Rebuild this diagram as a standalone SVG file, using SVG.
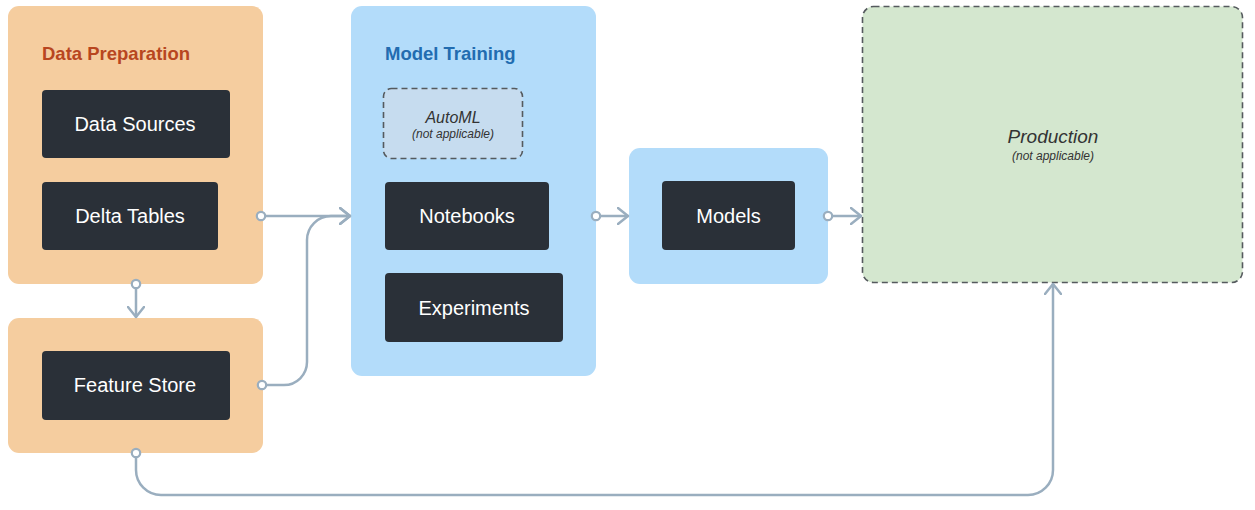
<svg xmlns="http://www.w3.org/2000/svg" width="1255" height="510" viewBox="0 0 1255 510">
<style>
.prep{fill:#f5cd9f}
.train{fill:#b3dcfa}
.node{fill:#2a3038}
.lbl{font-family:"Liberation Sans",Arial,sans-serif;font-size:20px;fill:#ffffff;text-anchor:middle}
.title{font-family:"Liberation Sans",Arial,sans-serif;font-size:18.5px;font-weight:bold}
.na{fill:#c6dcef;stroke:#555a5e;stroke-width:1.6;stroke-dasharray:6 4}
.it{font-family:"Liberation Sans",Arial,sans-serif;font-style:italic;fill:#333;text-anchor:middle}
.conn{fill:none;stroke:#9aaebf;stroke-width:2.5;stroke-linecap:round;stroke-linejoin:round}
.dot{fill:#ffffff;stroke:#9aaebf;stroke-width:2.2}
</style>
<defs>
<marker id="arr" viewBox="0 0 12 18" refX="11" refY="9" markerWidth="12" markerHeight="18" markerUnits="userSpaceOnUse" orient="auto">
<path d="M1 1 L11 9 L1 17" fill="none" stroke="#9aaebf" stroke-width="2.5" stroke-linecap="round" stroke-linejoin="round"/>
</marker>
</defs>

<g id="data-preparation">
<rect class="prep" x="8" y="6" width="255" height="278" rx="11"/>
<text class="title" x="42" y="60" fill="#b8461f">Data Preparation</text>
</g>
<g id="data-sources">
<rect class="node" x="42" y="90" width="188" height="68" rx="4"/>
<text class="lbl" x="135" y="131">Data Sources</text>
</g>
<g id="delta-tables">
<rect class="node" x="42" y="182" width="176" height="68" rx="4"/>
<text class="lbl" x="130" y="223">Delta Tables</text>
</g>
<g id="feature-store-group">
<rect class="prep" x="8" y="318" width="255" height="135" rx="11"/>
</g>
<g id="feature-store">
<rect class="node" x="42" y="351" width="188" height="69" rx="4"/>
<text class="lbl" x="135" y="392">Feature Store</text>
</g>

<g id="model-training">
<rect class="train" x="351" y="6" width="245" height="370" rx="11"/>
<text class="title" x="385" y="60" fill="#226cb0">Model Training</text>
</g>
<g id="automl">
<rect class="na" x="383.5" y="88.5" width="139" height="70" rx="8"/>
<text class="it" x="453" y="123" font-size="16">AutoML</text>
<text class="it" x="453" y="138" font-size="12">(not applicable)</text>
</g>
<g id="notebooks">
<rect class="node" x="385" y="182" width="164" height="68" rx="4"/>
<text class="lbl" x="467" y="223">Notebooks</text>
</g>
<g id="experiments">
<rect class="node" x="385" y="273" width="178" height="69" rx="4"/>
<text class="lbl" x="474" y="315">Experiments</text>
</g>

<g id="models-group">
<rect class="train" x="629" y="148" width="199" height="136" rx="11"/>
</g>
<g id="models">
<rect class="node" x="662" y="181" width="133" height="69" rx="4"/>
<text class="lbl" x="728.5" y="223">Models</text>
</g>

<g id="production">
<rect class="na" x="862.5" y="6.5" width="380" height="276" rx="11" style="fill:#d4e7cf"/>
<text class="it" x="1053" y="143" font-size="19">Production</text>
<text class="it" x="1053" y="160" font-size="12">(not applicable)</text>
</g>

<g id="connectors">
<path class="conn" d="M261 216 H350" marker-end="url(#arr)"/>
<path class="conn" d="M262 385 H284 A23 23 0 0 0 307 362 V240 A24 24 0 0 1 331 216 H350" marker-end="url(#arr)"/>
<path class="conn" d="M136 284 V317" marker-end="url(#arr)"/>
<path class="conn" d="M596 216 H628" marker-end="url(#arr)"/>
<path class="conn" d="M828 216 H861" marker-end="url(#arr)"/>
<path class="conn" d="M136 453 V470 A25 25 0 0 0 161 495 H1028 A25 25 0 0 0 1053 470 V284" marker-end="url(#arr)"/>
<circle class="dot" cx="261" cy="216" r="4.2"/>
<circle class="dot" cx="262" cy="385" r="4.2"/>
<circle class="dot" cx="136" cy="284" r="4.2"/>
<circle class="dot" cx="596" cy="216" r="4.2"/>
<circle class="dot" cx="828" cy="216" r="4.2"/>
<circle class="dot" cx="136" cy="453" r="4.2"/>
</g>
</svg>
